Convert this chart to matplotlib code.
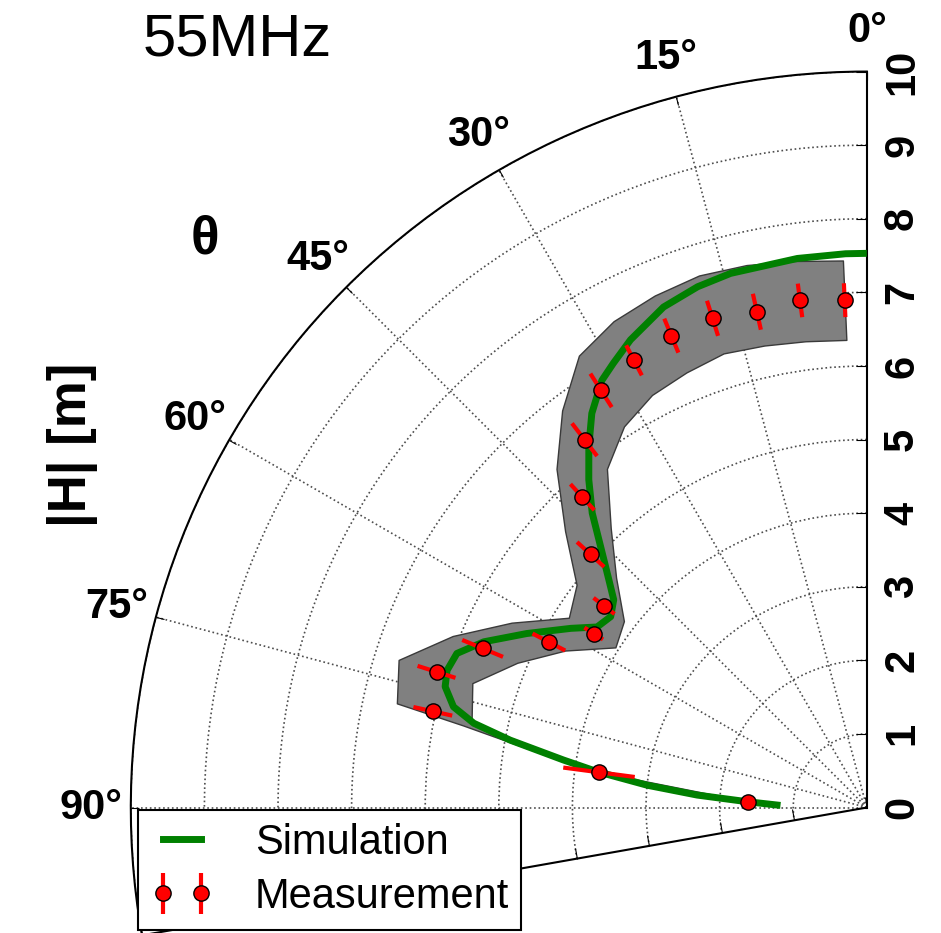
import matplotlib
matplotlib.use("Agg")
import matplotlib.pyplot as plt
import matplotlib.transforms as mtransforms
import numpy as np

plt.rcParams['font.family'] = ['Liberation Sans', 'DejaVu Sans']
plt.rcParams['font.weight'] = 'bold'

# Measurement: zenith angle [deg], |H| [m], error [m]
meas_theta = [2.5, 7.5, 12.5, 17.5, 22.5, 27.5, 32.5, 37.5, 42.5, 47.5,
              52.5, 57.5, 62.5, 67.5, 72.5, 77.5, 82.5, 87.5]
meas_h = [6.90, 6.95, 6.90, 6.97, 6.94, 6.85, 6.72, 6.30, 5.72, 5.09,
          4.50, 4.40, 4.87, 5.65, 6.13, 6.04, 3.67, 1.62]
meas_err = [0.23, 0.23, 0.25, 0.25, 0.25, 0.23, 0.27, 0.28, 0.24, 0.25,
            0.18, 0.15, 0.25, 0.30, 0.27, 0.27, 0.49, 0.10]

# Simulation curve
sim_theta = [0.0, 2.2, 7.2, 14.3, 18.0, 22.1, 26.8, 29.7, 31.8, 33.5,
             34.9, 37.6, 40.3, 43.0, 45.6, 48.6, 50.6, 53.3, 56.2, 58.8,
             62.9, 66.6, 69.4, 71.9, 74.0, 76.3, 77.9, 79.3, 81.1, 82.4,
             84.2, 85.8, 87.2, 88.4]
sim_h = [7.53, 7.53, 7.52, 7.49, 7.44, 7.34, 7.12, 6.95, 6.83, 6.66,
         6.53, 6.19, 5.84, 5.47, 5.06, 4.67, 4.45, 4.34, 4.41, 4.70,
         5.19, 5.67, 5.95, 6.00, 5.96, 5.78, 5.46, 4.93, 4.17, 3.70,
         3.00, 2.31, 1.63, 1.22]

# Uncertainty band
band_theta = [2.5, 7.5, 12.5, 17.5, 22.5, 27.5, 32.5, 37.5, 42.5, 47.5,
              52.5, 57.5, 62.5, 67.5, 72.5, 77.5, 78.5, 82.5, 87.5]
band_lo = [6.36, 6.39, 6.43, 6.47, 6.40, 6.32, 6.14, 5.80, 5.15, 4.62,
           4.16, 4.05, 4.62, 5.14, 5.62, 5.50, 5.15, 3.62, 1.55]
band_hi = [7.44, 7.49, 7.55, 7.58, 7.53, 7.45, 7.28, 6.80, 6.24, 5.56,
           4.97, 4.80, 5.44, 6.09, 6.67, 6.54, 5.60, 3.78, 1.68]

theta_ticks = [0, 15, 30, 45, 60, 75, 90]
r_ticks = [0, 1, 2, 3, 4, 5, 6, 7, 8, 9, 10]

fig = plt.figure(figsize=(9.41, 9.33), dpi=100)
ax = fig.add_axes([0.0671, -0.0025, 0.918, 0.9258], projection='polar')
ax.set_theta_zero_location('N')
ax.set_theta_direction(1)
ax.set_thetamin(0)
ax.set_thetamax(100)
ax.set_ylim(0, 10)

ax.fill_between(np.radians(band_theta), band_lo, band_hi,
                facecolor='#808080', edgecolor='#3a3a3a', lw=1, zorder=2)
sim_line, = ax.plot(np.radians(sim_theta), sim_h, color='#008000', lw=5,
                    zorder=3, label='Simulation')
meas = ax.errorbar(np.radians(meas_theta), meas_h, yerr=meas_err, fmt='o',
                   color='red', ecolor='red', elinewidth=3, capsize=0,
                   markersize=11, markeredgecolor='black', markeredgewidth=1,
                   zorder=4, label='Measurement')

ax.set_thetagrids(theta_ticks, [u'%d\u00b0' % t for t in theta_ticks])
ax.set_rgrids(r_ticks, [str(r) for r in r_ticks])
ax.set_rlabel_position(0)
ax.grid(True, color='0.3', linestyle=':', lw=1.2)
ax.tick_params(axis='x', direction='in', length=6, pad=22, labelsize=30,
               top=True)
ax.tick_params(axis='y', direction='in', length=8, left=True, right=True,
               labelleft=False, labelright=False)
for sp in ax.spines.values():
    sp.set_linewidth(1.5)
    sp.set_color('black')

# radial labels, rotated and centred on their ticks along the 0 deg edge
r_lab_tr = mtransforms.offset_copy(ax.transData, fig=fig, x=11, y=0,
                                   units='points')
for r in r_ticks:
    ax.text(0, r, str(r), transform=r_lab_tr, fontsize=30, rotation=90,
            ha='left', va='center', rotation_mode='default', clip_on=False)

fig.text(237 / 941, 1 - 40 / 933, '55MHz', fontsize=43, fontweight='normal',
         ha='center', va='center')
fig.text(205 / 941, 1 - 240 / 933, u'\u03b8', fontsize=38,
         fontweight='bold', ha='center', va='center')
fig.text(72 / 941, 1 - 445 / 933, '|H| [m]', fontsize=38, fontweight='bold',
         rotation=90, ha='center', va='center')

leg = ax.legend([sim_line, meas], ['Simulation', 'Measurement'],
                loc='upper left', bbox_to_anchor=(138 / 941, 1 - 810 / 933),
                bbox_transform=fig.transFigure, borderaxespad=0,
                prop={'size': 30, 'weight': 'normal'}, numpoints=2,
                handlelength=1.5, handletextpad=1.0, labelspacing=0.35,
                borderpad=0.3, fancybox=False, framealpha=1,
                edgecolor='black')
leg.get_frame().set_linewidth(1.5)

fig.savefig('out.png', dpi=100)
